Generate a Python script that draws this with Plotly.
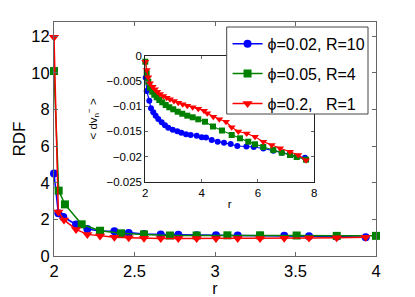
import plotly.graph_objects as go

# ---- main RDF data ----
r_blue = [2.0, 2.027, 2.058, 2.137, 2.207, 2.286, 2.375, 2.464, 2.559, 2.663, 2.772, 2.886, 3.006, 3.141, 3.28, 3.43, 3.584, 3.756, 3.936]
rdf_blue = [4.5, 2.33, 2.13, 1.72, 1.47, 1.37, 1.35, 1.26, 1.2, 1.18, 1.16, 1.13, 1.13, 1.12, 1.1, 1.1, 1.08, 1.07, 1.03]

r_green = [2.0, 2.029, 2.068, 2.172, 2.286, 2.416, 2.559, 2.72, 2.886, 3.077, 3.28, 3.507, 3.756, 4.0]
rdf_green = [10.1, 3.57, 2.82, 1.73, 1.38, 1.24, 1.18, 1.12, 1.12, 1.13, 1.13, 1.12, 1.1, 1.1]

r_red = [2.0, 2.027, 2.062, 2.137, 2.207, 2.286, 2.375, 2.464, 2.559, 2.663, 2.772, 2.886, 3.006, 3.141, 3.28, 3.43, 3.584, 3.756, 3.936]
rdf_red = [11.95, 2.4, 1.97, 1.45, 1.18, 1.09, 1.02, 1.0, 0.97, 0.96, 0.96, 0.96, 0.95, 0.95, 0.96, 0.97, 0.98, 1.0, 1.02]

# ---- inset <dv_n^-> data ----
ri_blue = [2.014, 2.05, 2.142, 2.202, 2.284, 2.369, 2.461, 2.582, 2.699, 2.816, 2.973, 3.136, 3.278, 3.445, 3.612, 3.825, 4.002, 4.155, 4.357, 4.57, 4.794, 5.032, 5.266, 5.59, 5.85, 6.19, 6.544, 6.842, 7.137, 7.374, 7.669]
dv_blue = [-0.00432, -0.00696, -0.00889, -0.0104, -0.0112, -0.01187, -0.01253, -0.01319, -0.01378, -0.01426, -0.01466, -0.01498, -0.01525, -0.01557, -0.01571, -0.01585, -0.01617, -0.0162, -0.0167, -0.01704, -0.01724, -0.0175, -0.0179, -0.018, -0.0181, -0.0184, -0.01883, -0.01923, -0.01955, -0.02003, -0.02023]

ri_green = [2.0, 2.05, 2.107, 2.167, 2.248, 2.319, 2.405, 2.497, 2.603, 2.724, 2.852, 2.994, 3.15, 3.313, 3.491, 3.683, 3.881, 4.119, 4.403, 4.723, 5.067, 5.362, 5.656, 5.894, 6.189, 6.544, 6.842, 7.137, 7.375, 7.705]
dv_green = [-0.00113, -0.00344, -0.00511, -0.0063, -0.0071, -0.0077, -0.00821, -0.00875, -0.00921, -0.00975, -0.0102, -0.0106, -0.01108, -0.01148, -0.01187, -0.01219, -0.01259, -0.01307, -0.01402, -0.01482, -0.01571, -0.01637, -0.01704, -0.01756, -0.0181, -0.0187, -0.01923, -0.01969, -0.02009, -0.02062]

ri_red = [2.0, 2.05, 2.107, 2.167, 2.263, 2.344, 2.426, 2.522, 2.639, 2.76, 2.877, 3.019, 3.171, 3.328, 3.491, 3.683, 3.881, 4.084, 4.201, 4.414, 4.627, 4.865, 5.067, 5.301, 5.6, 5.894, 6.189, 6.487, 6.782, 7.137, 7.431, 7.705]
dv_red = [-0.00113, -0.00278, -0.00424, -0.00543, -0.00611, -0.00662, -0.0071, -0.00756, -0.00796, -0.00829, -0.00861, -0.00895, -0.00929, -0.00961, -0.00988, -0.0102, -0.01048, -0.01088, -0.0114, -0.01207, -0.01259, -0.01307, -0.01418, -0.01502, -0.01541, -0.01605, -0.01704, -0.0177, -0.01836, -0.01903, -0.01969, -0.02074]

names = ["\u03d5=0.02, R=10", "\u03d5=0.05, R=4", "\u03d5=0.2,\u00a0\u00a0\u00a0R=1"]
colors = ["#0000ff", "#008000", "#ff0000"]
symbols = ["circle", "square", "triangle-down"]

main_x = [r_blue, r_green, r_red]
main_y = [rdf_blue, rdf_green, rdf_red]
ins_x = [ri_blue, ri_green, ri_red]
ins_y = [dv_blue, dv_green, dv_red]

fig = go.Figure()
for i in range(3):
    fig.add_trace(go.Scatter(
        x=main_x[i], y=main_y[i], mode="lines+markers", name=names[i],
        legendgroup=f"g{i}", cliponaxis=False,
        line=dict(color=colors[i], width=1.5),
        marker=dict(symbol=symbols[i], size=8 if i != 2 else 9, color=colors[i]),
        xaxis="x", yaxis="y"))
for i in range(3):
    fig.add_trace(go.Scatter(
        x=ins_x[i], y=ins_y[i], mode="lines+markers", showlegend=False,
        cliponaxis=False,
        line=dict(color=colors[i], width=1.2),
        marker=dict(symbol=symbols[i], size=6 if i != 2 else 7, color=colors[i]),
        xaxis="x2", yaxis="y2"))

axcol = "#666666"
font = "Arial, Liberation Sans, sans-serif"

fig.update_layout(
    width=415, height=297,
    margin=dict(l=54, r=39, t=22, b=41, autoexpand=False),
    paper_bgcolor="white", plot_bgcolor="white",
    font=dict(family=font, color="black"),
    xaxis=dict(domain=[0, 1], range=[2, 4], tickvals=[2, 2.5, 3, 3.5, 4],
               ticktext=["2", "2.5", "3", "3.5", "4"], automargin=False,
               ticks="inside", ticklen=4, tickcolor=axcol, mirror="allticks",
               showline=True, linecolor=axcol, linewidth=1, showgrid=False, zeroline=False,
               tickfont=dict(size=16.5), title=dict(text="r", font=dict(size=16), standoff=0)),
    yaxis=dict(domain=[0, 1], range=[0, 12.78], tickvals=[0, 2, 4, 6, 8, 10, 12],
               automargin=False,
               ticks="inside", ticklen=4, tickcolor=axcol, mirror="allticks",
               showline=True, linecolor=axcol, linewidth=1, showgrid=False, zeroline=False,
               tickfont=dict(size=16.5), title=dict(text="RDF", font=dict(size=17), standoff=1)),
    xaxis2=dict(domain=[0.2835, 0.8084], range=[2, 8], tickvals=[2, 4, 6, 8], anchor="y2",
                automargin=False,
                ticks="inside", ticklen=3, tickcolor=axcol, mirror="allticks",
                showline=True, linecolor="#222", linewidth=1, showgrid=False, zeroline=False,
                tickfont=dict(size=11.5), title=dict(text="r", font=dict(size=11.5), standoff=2)),
    yaxis2=dict(domain=[0.3175, 0.8547], range=[-0.025, 0],
                tickvals=[0, -0.005, -0.01, -0.015, -0.02, -0.025],
                ticktext=["0", "\u22120.005", "\u22120.01", "\u22120.015", "\u22120.02", "\u22120.025"],
                anchor="x2", automargin=False,
                ticks="inside", ticklen=3, tickcolor=axcol, mirror="allticks",
                showline=True, linecolor="#222", linewidth=1, showgrid=False, zeroline=False,
                tickfont=dict(size=11.5),
                title=dict(text="< dv<sub>n</sub><sup>\u2212</sup> >", font=dict(size=11.5), standoff=6)),
    legend=dict(x=0.539, y=0.979, xanchor="left", yanchor="top",
                bgcolor="rgba(0,0,0,0)", borderwidth=0,
                font=dict(size=16, family=font), tracegroupgap=6, itemwidth=30),
    shapes=[dict(type="rect", xref="paper", yref="paper",
                 x0=0.5363, x1=0.9752, y0=0.6068, y1=0.9786,
                 fillcolor="white", line=dict(color="#444", width=1), layer="above")],
)

fig.write_html("out.html", post_script="document.body.style.margin='0';",
               config={"displayModeBar": False})
